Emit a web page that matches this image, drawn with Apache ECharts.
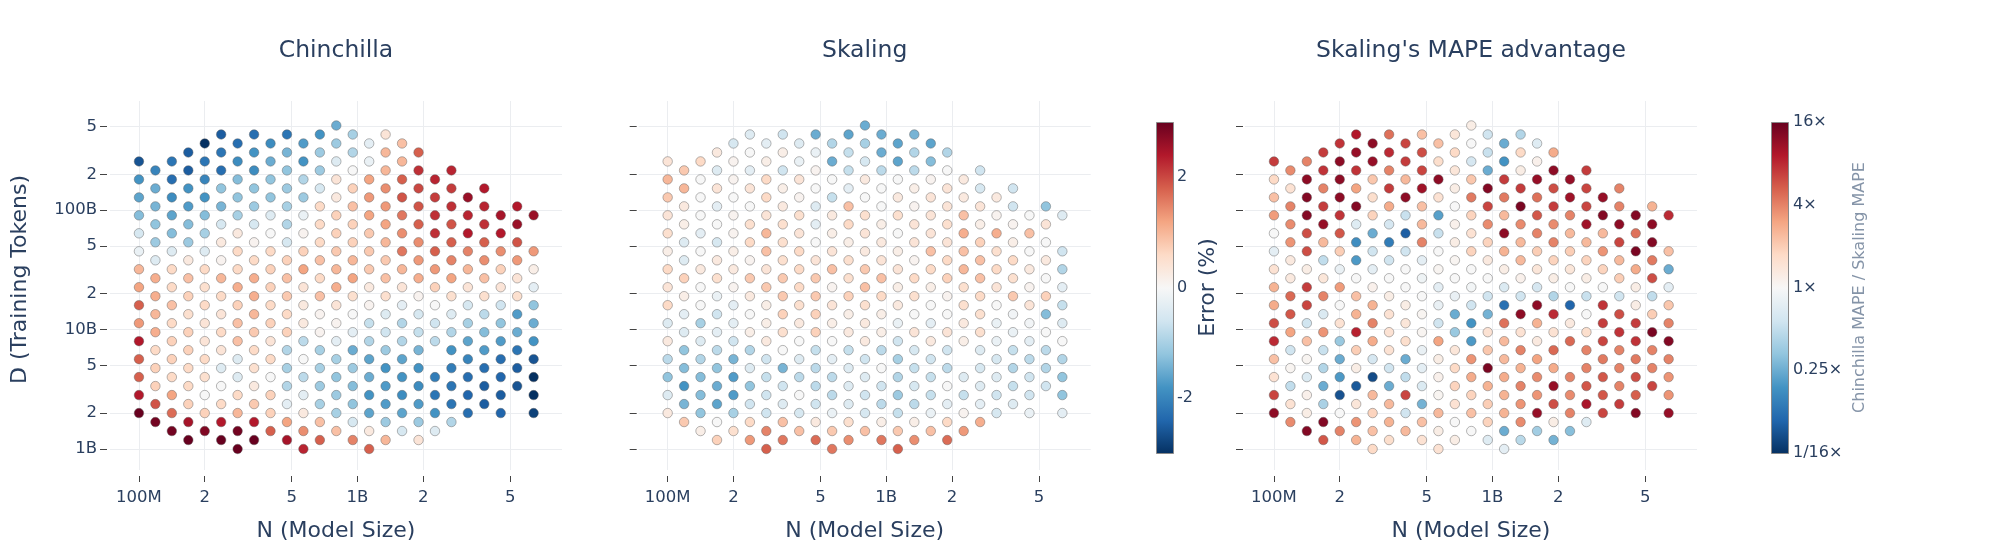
<!DOCTYPE html>
<html>
<head>
<meta charset="utf-8">
<script src="https://cdn.jsdelivr.net/npm/echarts@6/dist/echarts.min.js"></script>
<style>
  html, body { margin: 0; padding: 0; background: #fff; }
  #chart { width: 1992px; height: 558px; }
</style>
</head>
<body>
<div id="chart"></div>
<script>
// model sizes (columns) and training tokens (rows), quarter-octave grid
const nModel = [100e6, 118.9e6, 141.4e6, 168.2e6, 200e6, 237.8e6, 282.8e6, 336.4e6, 400e6,
  475.7e6, 565.7e6, 672.7e6, 800e6, 951.4e6, 1131e6, 1345e6, 1600e6, 1903e6, 2263e6,
  2691e6, 3200e6, 3805e6, 4525e6, 5382e6, 6400e6];
const dTokens = [1e9, 1.189e9, 1.414e9, 1.682e9, 2e9, 2.378e9, 2.828e9, 3.364e9, 4e9,
  4.757e9, 5.657e9, 6.727e9, 8e9, 9.514e9, 11.31e9, 13.45e9, 16e9, 19.03e9, 22.63e9,
  26.91e9, 32e9, 38.05e9, 45.25e9, 53.82e9, 64e9, 76.11e9, 90.51e9, 107.6e9, 128e9,
  152.2e9, 181e9, 215.3e9, 256e9, 304.4e9, 362e9, 430.5e9, 512e9];

const nTickValues = [1e8, 2e8, 5e8, 1e9, 2e9, 5e9];
const nTickLabels = ['100M', '2', '5', '1B', '2', '5'];
const dTickValues = [1e9, 2e9, 5e9, 1e10, 2e10, 5e10, 1e11, 2e11, 5e11];
const dTickLabels = ['1B', '2', '5', '10B', '2', '5', '100B', '2', '5'];
const errTickValues = [-2, 0, 2];
const ratioTickValues = [-4, -2, 0, 2, 4];
const ratioTickLabels = ['1/16×', '0.25×', '1×', '4×', '16×'];

// one row per D value (bottom to top); even rows sit on even N columns, odd rows on odd ones
const chinchillaError = [
  [null, null, null, 3.0, null, 2.3, null, 1.8, null, null, null, null, null],
  [null, 3.0, 3.0, 3.0, 2.5, 1.8, 1.5, 1.0, 0.4, null, null, null],
  [null, 2.9, 2.8, 2.9, 1.8, 1.4, 0.9, 0.3, -0.5, -0.4, null, null, null],
  [2.9, 2.5, 2.4, 2.4, 1.2, 0.9, -0.5, -1.1, -1.1, -0.9, null, null],
  [3.0, 1.7, 0.7, 1.0, 0.7, 0.3, -1.0, -1.6, -1.6, -1.8, -2.3, -2.4, -2.8],
  [1.9, 0.7, 0.6, 0.8, -0.3, -1.0, -1.2, -1.7, -1.7, -2.2, -2.5, null],
  [2.4, 1.2, 0.0, 0.6, 0.7, -0.3, -1.1, -1.8, -1.9, -2.2, -2.4, -2.5, -3.0],
  [0.7, 0.6, 0.0, 0.3, -0.9, -1.1, -1.3, -1.7, -1.9, -2.2, -2.5, -2.6],
  [1.8, 0.6, 0.5, -0.4, 0.0, -0.8, -1.2, -1.5, -1.8, -2.1, -2.3, -2.4, -3.0],
  [0.7, 0.6, -0.4, 0.5, -1.0, -1.0, -1.1, -1.8, -1.8, -2.1, -2.3, -2.5],
  [1.8, 0.7, 0.6, -0.4, 0.6, 0.0, -1.0, -1.6, -1.6, null, -2.0, -2.3, -2.6],
  [0.6, 0.7, 0.4, 0.6, -0.9, -1.0, -1.5, -1.1, -1.4, -1.8, -1.7, -2.2],
  [2.4, 0.7, 0.4, 0.9, 0.4, -0.8, -0.3, -0.9, -0.9, -0.8, -1.6, -1.7, -1.8],
  [1.1, 0.7, 0.6, 0.8, 0.7, 0.1, -0.3, -0.6, -0.7, -0.9, -1.3, -1.5],
  [1.3, 0.6, 0.4, 0.9, 0.7, 0.3, 0.1, -0.7, -0.9, -0.6, -1.0, -1.2, -1.5],
  [1.0, 0.5, 0.4, 1.0, 0.6, 0.1, 0.0, -0.4, -0.5, -0.4, -0.8, -1.7],
  [1.8, 0.9, 0.6, 0.7, 0.6, 0.3, 0.4, 0.1, -0.3, 0.0, -0.5, -0.6, -1.2],
  [1.1, 0.7, 0.6, 1.1, 0.8, 0.9, 0.5, 0.5, 0.1, 0.5, 0.5, 0.5],
  [1.2, 0.6, 0.5, 1.1, 0.7, 0.4, 1.1, 0.3, 0.4, 0.7, 0.4, 0.4, -0.3],
  [1.1, 0.9, 1.0, 1.1, 0.9, 0.6, 1.2, 0.9, 1.1, 1.2, 0.9, 0.4],
  [1.0, 0.6, 0.6, 0.6, 0.7, 1.2, 1.0, 0.8, 1.0, 1.3, 1.0, 0.7, 0.2],
  [-0.4, 0.3, 0.1, 0.6, 0.7, 0.9, 1.0, 0.8, 1.3, 1.5, 1.4, 1.3],
  [-0.2, -0.4, -0.4, 0.6, 0.6, 0.7, 0.8, 0.8, 1.6, 1.8, 1.5, 1.4, 1.3],
  [-1.1, -1.1, 0.3, 0.1, -0.5, 0.6, 0.7, 1.0, 1.4, 1.8, 1.8, 1.9],
  [-0.5, -1.3, -1.0, 0.3, 0.0, 0.1, 0.7, 0.8, 1.4, 2.2, 2.4, 2.4, null],
  [-1.2, -1.3, -0.5, -0.5, -0.9, 0.6, 0.7, 1.2, 1.8, 1.9, 2.2, 2.6],
  [-1.3, -1.6, -1.3, -1.0, -0.4, -0.2, 0.7, 1.2, 1.6, 2.2, 2.3, 2.5, 2.6],
  [-1.4, -1.7, -1.4, -1.1, -1.0, 0.6, 0.9, 1.3, 1.9, 2.2, 2.3, 2.4],
  [-1.6, -1.9, -1.8, -1.2, -1.2, -1.1, 0.3, 1.3, 1.9, 2.1, 2.6, null, null],
  [-1.5, -1.8, -1.2, -1.2, -1.1, -0.5, 0.7, 1.4, 2.0, 2.1, 2.4, null],
  [-1.8, -2.3, -2.0, -1.3, -1.2, -0.9, 0.4, 1.2, 1.8, 2.3, null, null, null],
  [-2.0, -2.5, -2.3, -1.9, -1.2, -1.1, 0.0, 1.0, 2.2, 2.3, null, null],
  [-2.6, -2.2, -2.2, -1.9, -1.5, -1.8, -0.4, -0.2, 1.0, null, null, null, null],
  [null, -2.5, -2.2, -1.8, -1.4, -1.1, -0.9, 1.0, 1.8, null, null, null],
  [null, null, -3.0, -2.3, -1.9, -1.7, -1.1, -0.3, 0.9, null, null, null, null],
  [null, null, -2.5, -2.3, -2.2, -1.8, -1.0, 0.4, null, null, null, null],
  [null, null, null, null, null, null, -1.5, null, null, null, null, null, null]
];

const skalingError = [
  [null, null, null, 1.8, null, 1.6, null, 1.8, null, null, null, null, null],
  [null, 0.7, 1.3, 1.6, 1.7, 1.4, 1.6, 1.4, 1.7, null, null, null],
  [null, 0.2, 0.5, 1.5, 0.9, 0.8, 0.9, 0.8, 0.9, 1.3, null, null, null],
  [0.8, 0.0, 0.6, 0.9, 0.3, 0.5, 0.2, 0.2, 0.6, 1.1, null, null],
  [0.3, -1.2, -1.0, -0.6, -0.5, -0.2, -0.5, -0.7, -0.2, 0.1, -0.5, -0.2, -0.3],
  [-1.4, -1.6, -0.6, -0.4, -0.6, -0.4, -0.8, -0.8, -0.3, -0.3, -0.4, null],
  [-0.4, -1.3, -1.7, -0.6, 0.0, -0.8, -0.6, -1.1, -0.7, -0.7, -0.6, -0.6, -1.2],
  [-1.8, -1.5, -1.2, -0.6, -0.8, -0.4, -0.6, -0.5, 0.0, -0.4, -0.7, -0.6],
  [-1.2, -1.3, -1.7, -0.7, -0.8, -0.8, -0.4, -0.9, -0.7, -0.4, -0.4, -0.6, -1.2],
  [-1.3, -1.2, -0.4, -1.4, -0.8, -0.4, 0.0, -0.7, -0.8, -0.5, -0.9, -0.9],
  [-0.8, -0.9, -1.4, -0.6, -0.4, -0.3, -0.6, -1.0, -0.6, null, -0.5, -0.8, -0.9],
  [-1.2, -0.8, -0.9, 0.0, -0.7, -0.7, -0.8, -0.5, -0.6, -0.4, -0.7, -0.8],
  [0.3, -0.4, -0.6, 0.3, 0.0, 0.0, 0.3, -0.6, 0.3, 0.2, -0.2, -0.3, 0.0],
  [-0.4, -0.3, 0.2, 0.5, 0.7, 0.3, 0.2, 0.4, 0.4, 0.5, -0.2, 0.0],
  [-0.4, -1.0, -0.3, 0.2, 0.3, 0.2, 0.3, -0.2, -0.3, 0.3, -0.2, -0.1, -0.4],
  [-0.3, -0.6, 0.0, 0.7, 0.7, 0.2, 0.2, 0.0, 0.0, 0.5, -0.1, -1.3],
  [0.6, 0.0, -0.3, 0.2, 0.5, 0.4, 0.5, 0.3, 0.0, 0.5, 0.0, 0.4, -0.7],
  [0.2, -0.2, 0.3, 0.8, 0.8, 0.7, 0.6, 0.5, 0.1, 0.6, 0.8, 0.7],
  [0.4, 0.0, 0.1, 0.8, 0.6, 0.1, 0.9, 0.2, 0.2, 0.5, 0.4, 0.1, -0.3],
  [0.7, 0.5, 0.8, 0.8, 0.8, 0.5, 0.9, 0.6, 0.7, 0.9, 0.5, 0.0],
  [0.6, 0.3, 0.3, 0.4, 0.6, 0.9, 0.8, 0.4, 0.6, 1.0, 0.6, 0.3, -0.9],
  [-0.4, 0.3, 0.1, 0.5, 0.4, 0.5, 0.4, 0.1, 0.6, 0.9, 0.6, 0.3],
  [0.2, 0.0, 0.2, 0.9, 0.6, 0.4, 0.3, 0.2, 0.9, 0.9, 0.5, 0.0, -0.6],
  [-0.4, -0.5, 0.6, 0.5, 0.0, 0.2, 0.3, 0.4, 0.4, 0.7, 0.2, 0.0],
  [0.5, -0.3, 0.1, 1.0, 0.4, 0.2, 0.4, 0.0, 0.4, 1.1, 1.1, 0.9, null],
  [0.2, 0.0, 0.5, 0.5, -0.3, 0.6, 0.2, 0.4, 0.5, 0.2, 0.1, 0.4],
  [0.4, 0.0, 0.1, 0.4, 0.5, 0.3, 0.5, 0.5, 0.4, 0.9, 0.1, 0.0, -0.4],
  [0.3, -0.3, 0.0, 0.3, -0.4, 0.9, 0.0, 0.1, 0.4, 0.4, -0.6, -1.2],
  [0.8, 0.0, 0.0, 0.6, 0.1, -0.7, 0.0, 0.3, 0.4, 0.3, 0.3, null, null],
  [1.0, 0.4, 0.4, 0.2, 0.0, -0.3, 0.0, 0.2, 0.4, -0.5, -0.6, null],
  [1.0, 0.0, 0.1, 0.6, 0.4, 0.0, 0.3, 0.0, 0.1, 0.3, null, null, null],
  [0.8, -0.4, -0.3, -0.6, 0.1, -0.7, -0.8, -0.8, 0.0, -0.6, null, null],
  [0.4, 0.6, 0.1, 0.2, -0.2, -1.5, -0.5, -1.6, -1.3, null, null, null, null],
  [null, 0.3, 0.0, 0.2, -0.2, -0.7, -1.5, -0.9, -0.9, null, null, null],
  [null, null, -0.5, -0.3, -0.4, -0.9, -1.0, -1.6, -1.6, null, null, null, null],
  [null, null, -0.4, -0.6, -1.5, -1.6, -1.5, -1.4, null, null, null, null],
  [null, null, null, null, null, null, -1.5, null, null, null, null, null, null]
];

// log2 of Chinchilla MAPE / Skaling MAPE
const advantageLog2 = [
  [null, null, null, 0.8, null, 0.6, null, -0.4, null, null, null, null, null],
  [null, 2.5, 1.4, 0.7, 0.6, 0.3, -0.5, -1.1, -1.9, null, null, null],
  [null, 3.7, 2.0, 1.2, 1.3, 0.3, 0.0, -2.0, -1.4, -1.7, null, null, null],
  [1.9, 3.7, 1.8, 1.4, 1.2, 0.0, 0.9, 1.9, 0.3, -0.5, null, null],
  [3.6, 0.3, 0.0, 0.9, -0.8, 1.3, 1.2, 1.4, 3.5, 2.0, 2.7, 3.7, 3.5],
  [0.6, -1.3, 0.5, 1.3, -1.9, 0.6, 1.0, 1.8, 2.6, 3.3, 2.8, null],
  [2.7, 0.2, -3.5, 1.3, 2.7, 0.1, 0.9, 1.4, 1.8, 1.9, 2.5, 2.4, 1.8],
  [-1.0, -2.0, -3.4, -2.0, -0.6, 0.9, 1.4, 2.0, 3.5, 2.5, 2.0, 2.7],
  [0.6, -0.6, -2.3, -3.6, -1.0, 0.2, 1.5, 1.5, 1.9, 2.0, 2.5, 2.6, 1.8],
  [0.1, -1.2, 0.3, -0.8, -0.4, 0.8, 3.8, 1.4, 1.5, 2.0, 2.0, 2.0],
  [1.2, 0.1, -2.0, -0.7, -2.0, 0.3, 1.8, 1.3, 1.6, null, 2.1, 2.1, 2.0],
  [-0.8, -0.9, 1.0, 0.6, -0.3, 0.5, 1.1, 2.0, 2.3, 2.0, 2.0, 2.0],
  [3.0, 1.2, -1.5, 1.5, 0.7, 1.6, -2.3, 1.3, 0.4, 2.3, 2.7, 2.9, 3.7],
  [1.6, 1.8, 3.1, 0.6, 0.1, -1.5, 0.6, 0.6, 0.6, 0.7, 2.9, 3.8],
  [2.6, -0.8, 0.6, 2.0, 0.5, -0.8, -2.4, 2.2, 1.4, 0.4, 2.8, 2.8, 2.0],
  [2.5, -0.6, 1.4, 0.6, 0.1, -2.0, -1.9, 3.6, 3.0, 0.0, 2.6, 1.0],
  [1.5, 2.7, 0.0, 1.4, 0.3, -0.3, -0.8, -3.0, 3.6, -3.2, 2.9, 0.3, 1.1],
  [2.3, 2.0, 1.2, 0.3, 0.0, -0.3, -0.8, -0.8, -1.2, -0.9, -0.8, -1.0],
  [1.4, 2.8, 1.7, 0.2, 0.0, -0.4, -0.1, -0.6, -0.7, 0.0, 0.0, 0.3, -0.4],
  [0.4, 0.5, 0.0, 0.0, -0.2, 0.0, 0.0, 0.2, 0.3, 0.3, 1.0, 2.6],
  [0.6, 0.3, -0.3, -0.4, 0.0, 0.1, 0.0, 0.3, 0.5, 0.5, 0.9, 1.5, -2.0],
  [0.4, -1.0, -2.3, -0.8, -0.4, 0.1, 0.4, 1.3, 0.9, 0.9, 1.3, 2.1],
  [-0.4, 2.6, 1.0, -0.8, -0.8, 0.0, 0.9, 1.4, 1.0, 1.0, 1.8, 3.8, 1.2],
  [1.8, 1.3, -2.5, -2.8, 2.0, 0.3, 0.9, 1.3, 2.0, 1.3, 2.7, 3.7],
  [0.0, 2.6, 2.5, -2.0, -3.3, -0.9, 0.6, 3.6, 2.0, 1.3, 1.3, 2.2, null],
  [1.9, 3.5, -0.5, -0.7, 1.3, 0.2, 1.9, 1.9, 1.9, 3.4, 3.6, 3.6],
  [1.7, 3.7, 2.9, 0.9, -0.9, -2.2, 0.9, 1.3, 2.5, 2.0, 3.7, 3.7, 3.0],
  [2.0, 2.8, 3.7, 1.5, 1.2, 0.0, 2.7, 3.8, 2.8, 2.7, 2.0, 1.4],
  [1.2, 3.7, 3.6, 0.7, 3.6, 0.6, 2.1, 2.1, 2.2, 3.4, 3.5, null, null],
  [0.6, 2.0, 1.6, 2.8, 3.4, 0.3, 3.7, 2.8, 2.6, 2.7, 2.0, null],
  [0.8, 3.6, 3.6, 1.1, 1.3, 3.6, 1.1, 2.8, 3.5, 3.5, null, null, null],
  [1.9, 2.9, 2.9, 2.0, 2.7, 0.5, -2.0, 0.3, 3.6, 2.8, null, null],
  [2.8, 2.0, 3.6, 3.5, 2.8, 0.7, -0.7, -2.4, 0.2, null, null, null, null],
  [null, 2.8, 3.5, 3.0, 2.6, 0.8, -0.9, 0.8, 1.5, null, null, null],
  [null, null, 2.9, 3.6, 2.7, 1.2, 0.0, -2.0, -0.5, null, null, null, null],
  [null, null, 3.2, 2.2, 1.2, 0.5, -0.8, -1.2, null, null, null, null],
  [null, null, null, null, null, null, 0.3, null, null, null, null, null, null]
];

const rdbu = ['#053061', '#2166ac', '#4393c3', '#92c5de', '#d1e5f0', '#f7f7f7',
  '#fddbc7', '#f4a582', '#d6604d', '#b2182b', '#67001f'];

const textColor = '#2a3f5f';
const font = 'DejaVu Sans';

// turn the row tables into [N, D, value] points
function toPoints(rows) {
  const pts = [];
  rows.forEach((row, j) => {
    row.forEach((v, k) => {
      if (v === null) return;
      const col = 2 * k + (j % 2);
      pts.push([nModel[col], dTokens[j], v]);
    });
  });
  return pts;
}

function pickLabel(values, labels, v) {
  const i = values.findIndex(t => Math.abs(t - v) <= Math.abs(t) * 1e-6 + 1e-9);
  return i >= 0 ? labels[i] : '';
}

const panelLeft = [110, 638.7, 1245];
const plotTop = 101, plotW = 452, plotH = 369;

const grids = panelLeft.map(l => ({ left: l, top: plotTop, width: plotW, height: plotH }));
grids.push({ left: 1156, top: 122, width: 17, height: 331 });
grids.push({ left: 1771, top: 122, width: 17, height: 331 });

const xAxes = panelLeft.map((l, i) => ({
  type: 'log', gridIndex: i, min: 7.37e7, max: 8.63e9, offset: 6,
  axisLine: { show: false },
  axisTick: { show: true, length: 6, customValues: nTickValues, lineStyle: { color: '#444' } },
  axisLabel: {
    customValues: nTickValues, margin: 13, color: textColor, fontFamily: font, fontSize: 16.5,
    formatter: v => pickLabel(nTickValues, nTickLabels, v)
  },
  splitLine: { show: true, lineStyle: { color: '#ebedf0', width: 1 } },
  name: 'N (Model Size)', nameLocation: 'middle', nameGap: 44,
  nameTextStyle: { color: textColor, fontFamily: font, fontSize: 22 }
}));
xAxes.push({ type: 'value', gridIndex: 3, show: false });
xAxes.push({ type: 'value', gridIndex: 4, show: false });

const yAxes = panelLeft.map((l, i) => ({
  type: 'log', gridIndex: i, min: 6.67e8, max: 8.21e11, offset: i === 0 ? 3 : 2,
  axisLine: { show: false },
  axisTick: { show: true, length: 7, customValues: dTickValues, lineStyle: { color: '#444' } },
  axisLabel: {
    show: i === 0, customValues: dTickValues, margin: 10, color: textColor, fontFamily: font, fontSize: 16.5,
    formatter: v => pickLabel(dTickValues, dTickLabels, v)
  },
  splitLine: { show: true, lineStyle: { color: '#ebedf0', width: 1 } },
  name: i === 0 ? 'D (Training Tokens)' : '', nameLocation: 'middle', nameGap: 76,
  nameTextStyle: { color: textColor, fontFamily: font, fontSize: 22, padding: [0, 0, 0, 12] }
}));
yAxes.push({
  type: 'value', gridIndex: 3, min: -3, max: 3, position: 'right',
  axisLine: { show: false }, axisTick: { show: false }, splitLine: { show: false },
  axisLabel: { customValues: errTickValues, margin: 4, color: textColor, fontFamily: font, fontSize: 16 },
  name: 'Error (%)', nameLocation: 'middle', nameRotate: 90, nameGap: 22,
  nameTextStyle: { color: textColor, fontFamily: font, fontSize: 22 }
});
yAxes.push({
  type: 'value', gridIndex: 4, min: -4, max: 4, position: 'right',
  axisLine: { show: false }, axisTick: { show: false }, splitLine: { show: false },
  axisLabel: {
    customValues: ratioTickValues, margin: 5, color: textColor, fontFamily: font, fontSize: 16,
    formatter: v => pickLabel(ratioTickValues, ratioTickLabels, v)
  },
  name: 'Chinchilla MAPE / Skaling MAPE', nameLocation: 'middle', nameRotate: 90, nameGap: 64,
  nameTextStyle: { color: '#8594a8', fontFamily: font, fontSize: 16 }
});

const gradientStops = rdbu.map((c, i) => ({ offset: i / (rdbu.length - 1), color: c }));
function colorBar(x, y, w, h) {
  return {
    type: 'rect', left: x, top: y, z: 10,
    shape: { width: w, height: h },
    style: { fill: new echarts.graphic.LinearGradient(0, 1, 0, 0, gradientStops), stroke: '#8a8a8a', lineWidth: 1 }
  };
}

const titles = ['Chinchilla', 'Skaling', "Skaling's MAPE advantage"];

function scatter(idx, rows) {
  return {
    type: 'scatter', xAxisIndex: idx, yAxisIndex: idx,
    symbolSize: 9.5,
    itemStyle: { borderColor: 'rgba(95,95,95,0.45)', borderWidth: 1, opacity: 1 },
    data: toPoints(rows)
  };
}

const chart = echarts.init(document.getElementById('chart'));
chart.setOption({
  animation: false,
  backgroundColor: '#fff',
  title: titles.map((t, i) => ({
    text: t, left: panelLeft[i] + plotW / 2, top: 39, textAlign: 'center', padding: 0,
    textStyle: { color: textColor, fontFamily: font, fontSize: 23.5, fontWeight: 'normal' }
  })),
  grid: grids,
  xAxis: xAxes,
  yAxis: yAxes,
  visualMap: [
    { type: 'continuous', show: false, seriesIndex: [0, 1], dimension: 2, min: -3, max: 3, inRange: { color: rdbu } },
    { type: 'continuous', show: false, seriesIndex: [2], dimension: 2, min: -4, max: 4, inRange: { color: rdbu } }
  ],
  graphic: [colorBar(1156, 122, 17, 331), colorBar(1771, 122, 17, 331)],
  series: [scatter(0, chinchillaError), scatter(1, skalingError), scatter(2, advantageLog2)]
});
</script>
</body>
</html>
